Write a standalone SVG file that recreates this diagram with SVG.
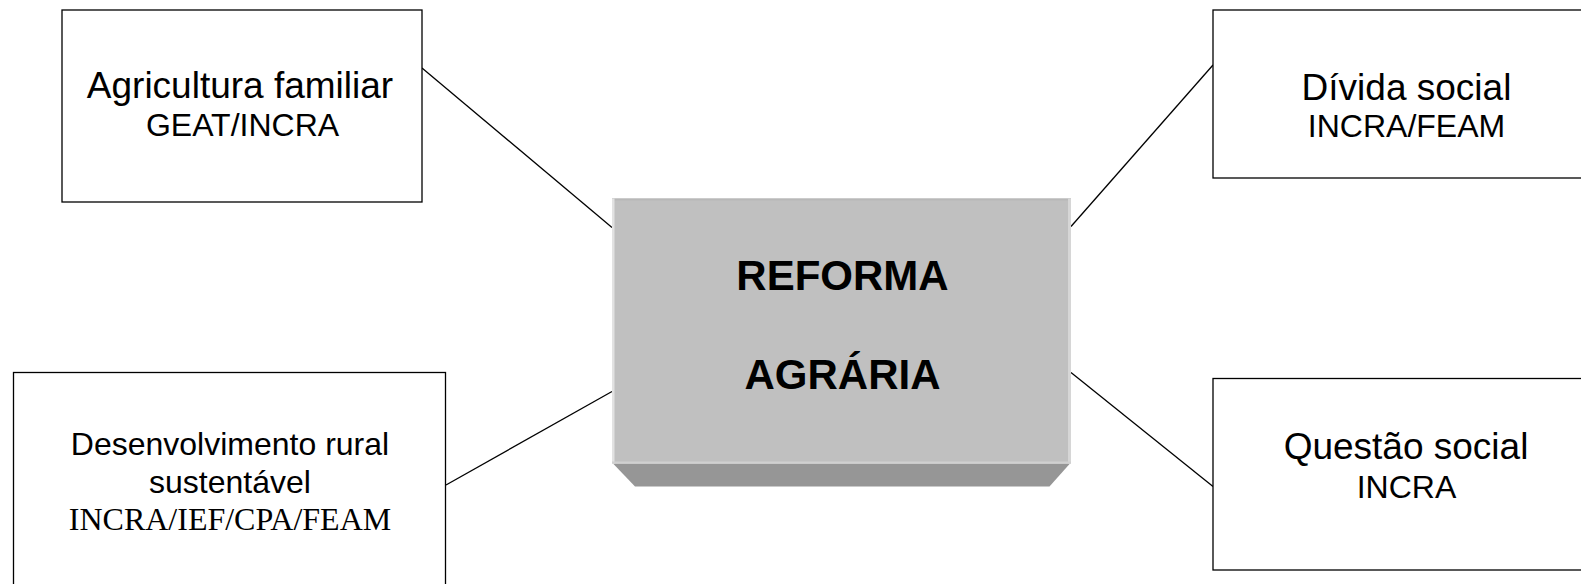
<svg xmlns="http://www.w3.org/2000/svg" width="1581" height="584" viewBox="0 0 1581 584">
<style>
.box{fill:#ffffff;stroke:#000000;stroke-width:1.3}
.conn{stroke:#000000;stroke-width:1.3;fill:none}
.t1{font-family:"Liberation Sans",Arial,sans-serif;font-size:37px;fill:#000;text-anchor:middle}
.t2{font-family:"Liberation Sans",Arial,sans-serif;font-size:32px;fill:#000;text-anchor:middle}
.t3{font-family:"Liberation Serif","Times New Roman",serif;font-size:32px;fill:#000;text-anchor:middle}
.tb{font-family:"Liberation Sans",Arial,sans-serif;font-size:42px;font-weight:bold;fill:#000;text-anchor:middle}
</style>
<rect width="1581" height="584" fill="#ffffff"/>
<g id="connectors">
<line class="conn" x1="422" y1="68" x2="612" y2="227.5"/>
<line class="conn" x1="446" y1="485" x2="612" y2="391.5"/>
<line class="conn" x1="1071" y1="226.5" x2="1213" y2="65"/>
<line class="conn" x1="1071" y1="372.5" x2="1213" y2="486.5"/>
</g>
<g id="center">
<polygon points="613,463.5 1070,463.5 1049.5,486.5 635,486.5" fill="#969696"/>
<rect x="612" y="198.5" width="459" height="265" fill="#c0c0c0"/>
<rect x="612" y="198.5" width="459" height="2" fill="#b8b8b8"/>
<rect x="612" y="198.5" width="2.5" height="265" fill="#e2e2e2"/>
<rect x="1068" y="198.5" width="3" height="265" fill="#d6d6d6"/>
<rect x="612" y="461.5" width="459" height="2" fill="#d0d0d0"/>
<text class="tb" x="842.5" y="290">REFORMA</text>
<text class="tb" x="842.5" y="389">AGRÁRIA</text>
</g>
<g id="agricultura">
<rect class="box" x="62" y="10" width="360" height="192"/>
<text class="t1" x="240" y="98">Agricultura familiar</text>
<text class="t2" x="242.5" y="136">GEAT/INCRA</text>
</g>
<g id="divida">
<rect class="box" x="1213" y="10" width="390" height="168"/>
<text class="t1" x="1406.5" y="100">Dívida social</text>
<text class="t2" x="1406.5" y="136.5">INCRA/FEAM</text>
</g>
<g id="desenvolvimento">
<rect class="box" x="13.5" y="372.5" width="432" height="230"/>
<text class="t2" x="230" y="455">Desenvolvimento rural</text>
<text class="t2" x="230" y="493">sustentável</text>
<text class="t3" x="230" y="530">INCRA/IEF/CPA/FEAM</text>
</g>
<g id="questao">
<rect class="box" x="1213" y="378.5" width="390" height="191.5"/>
<text class="t1" x="1406" y="459">Questão social</text>
<text class="t2" x="1406.5" y="497.5">INCRA</text>
</g>
</svg>
